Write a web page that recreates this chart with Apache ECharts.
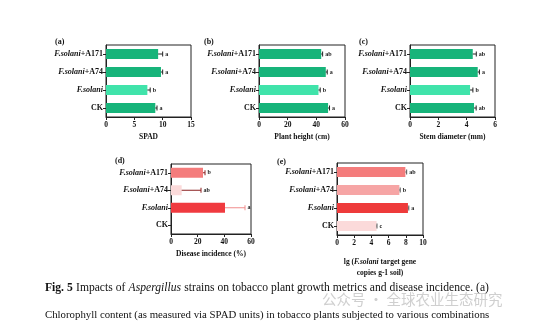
<!DOCTYPE html>
<html><head><meta charset="utf-8">
<script src="https://cdn.jsdelivr.net/npm/echarts@6/dist/echarts.min.js"></script>
<style>html,body{margin:0;padding:0;background:#fff}#c{width:539px;height:330px}</style>
</head><body><div id="c"></div>
<script>
const categories = ['CK', 'F.solani', 'F.solani+A74', 'F.solani+A171'];

const spadValues = [8.7, 7.3, 9.7, 9.2];
const spadErr = [0.3, 0.5, 0.3, 0.8];
const spadLetters = ['a', 'b', 'a', 'a'];

const heightValues = [48.2, 41.5, 46.6, 43.4];
const heightErr = [1.0, 1.2, 1.0, 1.0];
const heightLetters = ['a', 'b', 'a', 'ab'];

const stemValues = [4.52, 4.24, 4.78, 4.43];
const stemErr = [0.15, 0.2, 0.12, 0.25];
const stemLetters = ['ab', 'b', 'a', 'ab'];

const diseaseValues = [0, 40.5, 8, 24];
const diseaseErr = [0, 15, 14.5, 1.5];
const diseaseLetters = ['', 'a', 'ab', 'b'];

const geneValues = [4.6, 8.25, 7.25, 7.95];
const geneErr = [0.05, 0.1, 0.1, 0.15];
const geneLetters = ['c', 'a', 'b', 'ab'];

const greenColors = ['#17B47A', '#40E3AA', '#17B47A', '#17B47A'];
const diseaseColors = ['#F03A3F', '#F03A3F', '#FBDADA', '#F47C7C'];
const geneColors = ['#FBDADA', '#EE3B3B', '#F6A5A5', '#F47C7C'];
const diseaseErrColors = ['#333', '#F08C8C', '#8B2020', '#8B2020'];

const FONT = 'Liberation Serif';

const panels = [
  {grid:{left:106, width:85, top:45, height:72}, max:15, interval:5, name:'SPAD', values:spadValues, err:spadErr, letters:spadLetters, colors:greenColors, errColors:['#222','#222','#222','#222'], label:'(a)', lx:55, ly:38},
  {grid:{left:259, width:86, top:45, height:72}, max:60, interval:20, name:'Plant height (cm)', values:heightValues, err:heightErr, letters:heightLetters, colors:greenColors, errColors:['#222','#222','#222','#222'], label:'(b)', lx:204, ly:38},
  {grid:{left:410, width:85, top:45, height:72}, max:6, interval:2, name:'Stem diameter (mm)', values:stemValues, err:stemErr, letters:stemLetters, colors:greenColors, errColors:['#222','#222','#222','#222'], label:'(c)', lx:359, ly:38},
  {grid:{left:171, width:80, top:164, height:70}, max:60, interval:20, name:'Disease incidence (%)', values:diseaseValues, err:diseaseErr, letters:diseaseLetters, colors:diseaseColors, errColors:diseaseErrColors, label:'(d)', lx:115, ly:157},
  {grid:{left:337, width:86, top:163, height:72}, max:10, interval:2, name:'{n|lg (}{i|F.solani}{n| target gene}\n{n|copies g-1 soil)}', values:geneValues, err:geneErr, letters:geneLetters, colors:geneColors, errColors:['#555','#555','#555','#555'], label:'(e)', lx:277, ly:158}
];

const catRich = {
  i: {fontFamily: FONT, fontStyle: 'italic', fontWeight: 'bold', fontSize: 8, color: '#111'},
  n: {fontFamily: FONT, fontWeight: 'bold', fontSize: 8, color: '#111'}
};
function catFormatter(v) {
  const k = v.indexOf('+');
  if (v.indexOf('F.solani') === 0) {
    return k > 0 ? '{i|F.solani}{n|' + v.slice(k) + '}' : '{i|F.solani}';
  }
  return '{n|' + v + '}';
}

const grids = [], xAxes = [], yAxes = [], series = [], graphics = [];
panels.forEach((p, idx) => {
  grids.push(Object.assign({show: true, borderColor: '#222', borderWidth: 1, containLabel: false}, p.grid));
  xAxes.push({
    type: 'value', gridIndex: idx, min: 0, max: p.max, interval: p.interval,
    splitLine: {show: false},
    axisLine: {show: true, lineStyle: {color: '#222', width: 1}},
    axisTick: {show: true, length: 3, lineStyle: {color: '#222'}},
    axisLabel: {fontFamily: FONT, fontWeight: 'bold', fontSize: 7.5, color: '#111', margin: 4},
    name: p.name, nameLocation: 'middle', nameGap: idx === 4 ? 22 : 15,
    nameTextStyle: {fontFamily: FONT, fontWeight: 'bold', fontSize: 7.5, color: '#111', lineHeight: 11,
      rich: {n: {fontFamily: FONT, fontWeight: 'bold', fontSize: 7.5, color: '#111', lineHeight: 11},
             i: {fontFamily: FONT, fontWeight: 'bold', fontStyle: 'italic', fontSize: 7.5, color: '#111', lineHeight: 11}}}
  });
  yAxes.push({
    type: 'category', gridIndex: idx, data: categories,
    axisLine: {show: true, lineStyle: {color: '#222', width: 1}},
    axisTick: {show: true, length: 3, alignWithLabel: true, lineStyle: {color: '#222'}},
    axisLabel: {margin: 3, formatter: catFormatter, rich: catRich}
  });
  series.push({
    type: 'bar', xAxisIndex: idx, yAxisIndex: idx, barWidth: 10,
    data: p.values.map((v, i) => ({value: v, itemStyle: {color: p.colors[i]}})),
    animation: false
  });
  const errs = p.err, letters = p.letters, ecols = p.errColors;
  series.push({
    type: 'custom', xAxisIndex: idx, yAxisIndex: idx, animation: false, z: 5,
    data: p.values.map((v, i) => [v, i, errs[i]]),
    encode: {x: 0, y: 1},
    renderItem: function (params, api) {
      const v = api.value(0), ci = api.value(1), e = api.value(2);
      const i = params.dataIndex;
      const a = api.coord([v, ci]);
      const b = api.coord([v + e, ci]);
      const children = [];
      const col = ecols[i];
      if (e > 0 && v > 0) {
        children.push({type: 'line', shape: {x1: a[0], y1: a[1], x2: b[0], y2: b[1]}, style: {stroke: col, lineWidth: 1}});
        children.push({type: 'line', shape: {x1: b[0], y1: b[1] - 2.5, x2: b[0], y2: b[1] + 2.5}, style: {stroke: col, lineWidth: 1}});
      }
      if (letters[i]) {
        children.push({type: 'text', x: b[0] + 2.5, y: b[1], style: {text: letters[i], fontFamily: FONT, fontWeight: 'bold', fontSize: 6, fill: '#222', verticalAlign: 'middle', align: 'left'}});
      }
      return {type: 'group', children: children};
    }
  });
  graphics.push({type: 'text', left: p.lx, top: p.ly, style: {text: p.label, fontFamily: FONT, fontWeight: 'bold', fontSize: 8, fill: '#111'}});
});

graphics.push({
  type: 'text', left: 45, top: 282,
  style: {
    text: '{b|Fig. 5} {r|Impacts of} {i|Aspergillus} {r|strains on tobacco plant growth metrics and disease incidence. (a)}',
    rich: {
      b: {fontFamily: FONT, fontWeight: 'bold', fontSize: 11.6, fill: '#111'},
      r: {fontFamily: FONT, fontSize: 11.6, fill: '#111'},
      i: {fontFamily: FONT, fontStyle: 'italic', fontSize: 11.6, fill: '#111'}
    }
  }
});
graphics.push({
  type: 'text', left: 322, top: 292,
  style: {text: '公众号 · 全球农业生态研究', fontFamily: 'Noto Sans CJK SC', fontSize: 14.5, fill: 'rgba(160,160,160,0.5)'}
});
graphics.push({
  type: 'text', left: 45, top: 310,
  style: {text: 'Chlorophyll content (as measured via SPAD units) in tobacco plants subjected to various combinations', fontFamily: FONT, fontSize: 10.8, fill: '#111'}
});

const chart = echarts.init(document.getElementById('c'), null, {renderer: 'canvas'});
chart.setOption({
  backgroundColor: '#fff',
  animation: false,
  grid: grids, xAxis: xAxes, yAxis: yAxes, series: series, graphic: graphics
});
</script></body></html>
